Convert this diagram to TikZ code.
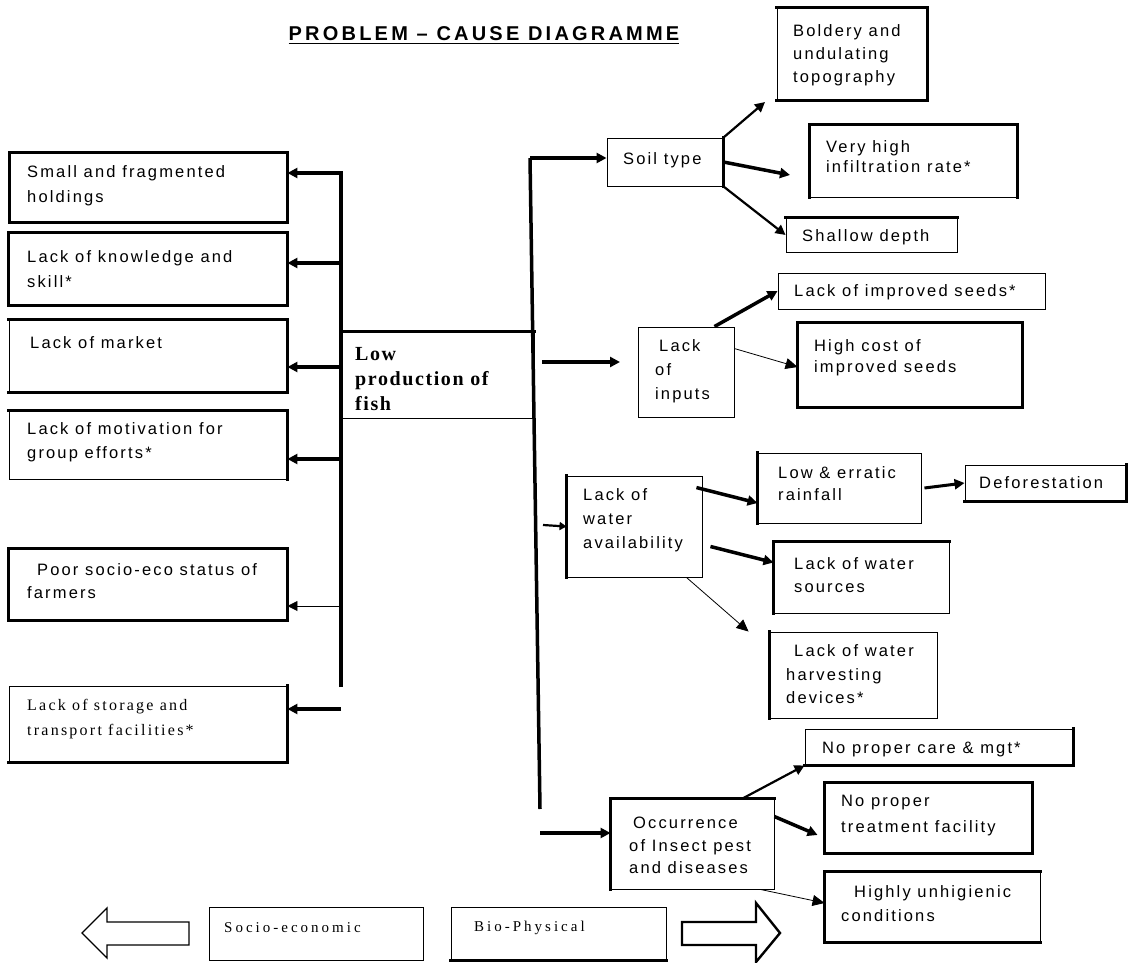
\documentclass[tikz,border=0pt]{standalone}
\usepackage{fontspec}
\setmainfont{Liberation Sans}
\newfontfamily\sfsp[LetterSpace=13]{Liberation Sans}
\newfontfamily\ttlsp[LetterSpace=16]{Liberation Sans}
\newfontfamily\rmsp[LetterSpace=14]{Liberation Serif}
\newfontfamily\rmbd[LetterSpace=8]{Liberation Serif}
\newfontfamily\rmlg[LetterSpace=20]{Liberation Serif}
\usetikzlibrary{arrows.meta,fit}
\begin{document}
\begin{tikzpicture}[x=1pt,y=-1pt,line join=miter,
  bx/.style={draw,line width=0.9pt,inner sep=0pt,rectangle},
  E/.style={line width=3pt,line cap=rect},
  ts/.style={anchor=west,align=left,inner sep=0pt,font=\sfsp\fontsize{16.5}{#1}\selectfont},
  ts/.default=25,
  rs/.style={anchor=west,align=left,inner sep=0pt,font=\rmsp\fontsize{16}{#1}\selectfont},
  rs/.default=25,
  lg/.style={anchor=west,inner sep=0pt,font=\rmlg\fontsize{15}{18}\selectfont},
  W/.style={line width=3.5pt},
  M/.style={line width=2.2pt},
  T/.style={line width=0.8pt},
  arr/.style={-{Triangle[length=10pt,width=10pt]}},
  arrt/.style={-{Triangle[length=12pt,width=11pt]}},
  hollow/.style={draw,line width=1.4pt,fill=white}
]
\useasboundingbox (0,0) rectangle (1128,963);

% title
\node[inner sep=0pt,font=\ttlsp\bfseries\fontsize{20}{22}\selectfont] (title) at (484,34) {PROBLEM – CAUSE DIAGRAMME};
\draw[line width=1.1pt] ([yshift=-3pt]title.base west) -- ([yshift=-3pt]title.base east);

% ---------- left boxes ----------
\node[bx,fit={(10,153) (287,222)}] (b1) {};
\node[bx,fit={(9,233) (287,305)}] (b2) {};
\node[bx,fit={(9,320) (287,392)}] (b3) {};
\node[bx,fit={(9,411) (287,479)}] (b4) {};
\node[bx,fit={(9,549) (287,620)}] (b5) {};
\node[bx,fit={(9,686) (287,762)}] (b6) {};
\draw[E] (b1.south west) rectangle (b1.north east);
\draw[E] (b2.south west) rectangle (b2.north east);
\draw[E] (b3.north west) -- (b3.north east) -- (b3.south east) -- (b3.south west);
\draw[E] (b4.north west) -- (b4.north east) -- (b4.south east);
\draw[E] (b5.south west) rectangle (b5.north east);
\draw[E] (b6.north east) -- (b6.south east) -- (b6.south west);

\node[ts] (b1t) at (27,185.5) {Small and fragmented\\holdings};
\node[ts] (b2t) at (27,269.5) {Lack of knowledge and\\skill*};
\node[ts] (b3t) at (30,343) {Lack of market};
\node[ts=24] (b4t) at (27,442) {Lack of motivation for\\group efforts*};
\node[ts=23] (b5t) at (27,581.5) {\hspace*{10pt}Poor socio-eco status of\\farmers};
\node[rs] (b6t) at (27,719.5) {Lack of storage and\\transport facilities*};

% ---------- centre ----------
\node[bx,fit={(341,332) (534,418)}] (lp) {};
\draw[E] (lp.north west) -- (lp.north east);
\node[anchor=west,align=left,inner sep=0pt,font=\rmbd\bfseries\fontsize{20}{25}\selectfont] (lpt) at (355,379) {Low\\production of\\fish};

% left bus
\coordinate (lbt) at (341,173);
\coordinate (lbb) at (341,687);
\coordinate (l2) at (341,263);
\coordinate (l3) at (341,367);
\coordinate (l4) at (341,459);
\coordinate (l5) at (341,606);
\coordinate (l6) at (341,709);
\draw[W,arr] (lbb) -- (lbt) -- (b1.east |- lbt);
\draw[W,arr] (l2) -- (b2.east |- l2);
\draw[W,arr] (l3) -- (b3.east |- l3);
\draw[W,arr] (l4) -- (b4.east |- l4);
\draw[T,arr] (l5) -- (b5.east |- l5);
\draw[W,arr] (l6) -- (b6.east |- l6);

% ---------- right side ----------
\node[bx,fit={(607,138) (723,186)}] (soil) {};
\draw[E] (soil.north east) -- (soil.south east);
\node[ts] (soilt) at (623,160) {Soil type};

\node[bx,fit={(777,8) (927,100)}] (bold) {};
\draw[E] (bold.north west) -- (bold.north east) -- (bold.south east) -- (bold.south west);
\node[ts=23] (boldt) at (793,55) {Boldery and\\undulating\\topography};

\node[bx,fit={(810,125) (1017,197)}] (vh) {};
\draw[E] (vh.south west) -- (vh.north west) -- (vh.north east) -- (vh.south east);
\node[ts=20] (vht) at (826,157) {Very high\\infiltration rate*};

\node[bx,fit={(786,218) (957,252)}] (sh) {};
\draw[E] (sh.north west) -- (sh.north east);
\node[ts] (sht) at (802,237) {Shallow depth};

\node[bx,fit={(778,273) (1045,309)}] (lis) {};
\node[ts] (list) at (794,292) {Lack of improved seeds*};

\node[bx,fit={(798,323) (1022,407)}] (hc) {};
\draw[E] (hc.south west) rectangle (hc.north east);
\node[ts=21] (hct) at (814,357.5) {High cost of\\improved seeds};

\node[bx,fit={(638,327) (734,417)}] (li) {};
\node[ts=24] (lit) at (655,371) {\hspace*{4pt}Lack\\of\\inputs};

\node[bx,fit={(567,476) (702,577)}] (wa) {};
\draw[E] (wa.north west) -- (wa.south west);
\node[ts=24] (wat) at (583,520) {Lack of\\water\\availability};

\node[bx,fit={(758,453) (921,523)}] (le) {};
\draw[E] (le.north west) -- (le.south west);
\node[ts=22] (let) at (778,484) {Low \& erratic\\rainfall};

\node[bx,fit={(965,465) (1126,501)}] (df) {};
\draw[E] (df.north east) -- (df.south east) -- (df.south west);
\node[ts] (dft) at (979,483) {Deforestation};

\node[bx,fit={(774,542) (949,613)}] (ws) {};
\draw[E] (ws.south west) -- (ws.north west) -- (ws.north east);
\node[ts=23] (wst) at (794,575.5) {Lack of water\\sources};

\node[bx,fit={(770,632) (937,718)}] (wh) {};
\draw[E] (wh.north west) -- (wh.south west);
\node[ts=23.5] (wht) at (786,674.5) {\hspace*{8pt}Lack of water\\harvesting\\devices*};

\node[bx,fit={(805,729) (1073,765)}] (care) {};
\draw[E] (care.north east) -- (care.south east) -- (care.south west);
\node[ts] (caret) at (822,749) {No proper care \& mgt*};

\node[bx,fit={(825,783) (1032,853)}] (tr) {};
\draw[E] (tr.south west) rectangle (tr.north east);
\node[ts=26] (trt) at (841,816) {No proper\\treatment facility};

\node[bx,fit={(611,799) (774,889)}] (occ) {};
\draw[E] (occ.south west) -- (occ.north west) -- (occ.north east);
\node[ts=22.5] (occt) at (629,845.5) {\hspace*{4pt}Occurrence\\of Insect pest\\and diseases};

\node[bx,fit={(825,872) (1040,942)}] (hu) {};
\draw[E] (hu.north east) -- (hu.north west) -- (hu.south west) -- (hu.south east);
\node[ts=24] (hut) at (841,904) {\hspace*{13pt}Highly unhigienic\\conditions};

% right bus
\coordinate (rbt) at (530,158);
\coordinate (rbb) at (540,809);
\draw[W] (rbb) -- (rbt);
\draw[W,arr] (rbt) -- (soil.west |- rbt);
\coordinate (ia1) at (542,362);
\coordinate (ia2) at (620,362);
\draw[W,arr] (ia1) -- (ia2);
\coordinate (wa1) at (543,525);
\draw[M,-{Triangle[length=7pt,width=8pt]}] (wa1) -- (wa.west);
\coordinate (oa1) at (540,833);
\draw[W,arr] (oa1) -- (occ.west |- oa1);

% soil type arrows
\coordinate (sb1) at (765,102);
\coordinate (sv1) at (790,175);
\draw[M,arr] (soil.north east) -- (sb1);
\draw[W,arr] (soil.east) -- (sv1);
\draw[M,arr] (soil.south east) -- (sh.west);

% inputs arrows
\draw[W,arr] ([xshift=-20pt]li.north east) -- (lis.west);
\draw[T,arrt] ([yshift=-22pt]li.north east) -- ([yshift=-2pt]hc.west);

% water arrows
\draw[W,arr] ([xshift=-6pt,yshift=-12pt]wa.north east) -- ([yshift=-15pt]le.west);
\draw[W,arr] ([xshift=8pt,yshift=-20pt]wa.east) -- ([yshift=15pt]ws.west);
\draw[T,arrt] ([xshift=-16pt]wa.south east) -- ([xshift=-21pt]wh.north west);
\draw[line width=3pt,arr] ([xshift=3pt]le.east) -- (df.west);

% occurrence arrows
\draw[M,arr] ([xshift=-32pt]occ.north east) -- (care.south west);
\draw[W,arr] ([yshift=-18pt]occ.north east) -- ([xshift=-7pt,yshift=-17pt]tr.west);
\draw[T,arrt] ([xshift=-14pt]occ.south east) -- ([yshift=4pt]hu.west);

% ---------- bottom legend ----------
\node[bx,fit={(209,907) (423,960)}] (se) {};
\node[bx,fit={(451,907) (666,960)}] (bp) {};
\draw[E] (bp.south west) -- (bp.south east);
\node[lg] (set) at (224,928) {Socio-economic};
\node[lg] (bpt) at (474,928) {Bio-Physical};
\draw[hollow] (82,933) -- (107,908) -- (107,922) -- (189,922) -- (189,945) -- (107,945) -- (107,958) -- cycle;
\draw[hollow,line width=2.4pt] (682,922) -- (756,922) -- (756,903) -- (780,933) -- (756,962) -- (756,945) -- (682,945) -- cycle;
\end{tikzpicture}
\end{document}
